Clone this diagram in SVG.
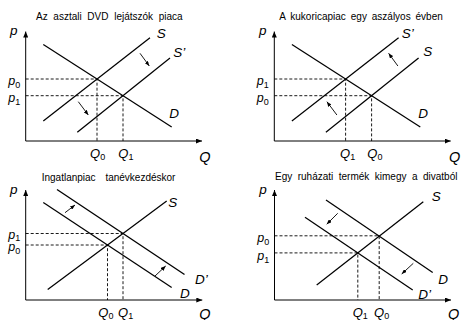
<svg xmlns="http://www.w3.org/2000/svg" width="461" height="320" viewBox="0 0 461 320">
<style>
.bg{fill:#fff}
.ax{stroke:#000;stroke-width:1;fill:none}
.cv{stroke:#000;stroke-width:1.25;fill:none}
.ds{stroke:#000;stroke-width:0.9;fill:none;stroke-dasharray:3 2}
.ar{stroke:#000;stroke-width:0.9;fill:none}
.tt{font-family:"Liberation Sans",Arial,sans-serif;font-size:10px;fill:#000}
.lb{font-family:"Liberation Sans",Arial,sans-serif;font-style:italic;font-size:13.5px;fill:#000}
.ql{font-family:"Liberation Sans",Arial,sans-serif;font-style:italic;font-size:14.5px;fill:#000}
.sv{font-family:"Liberation Sans",Arial,sans-serif;font-style:italic;font-size:13px;fill:#000}
.pv{font-family:"Liberation Sans",Arial,sans-serif;font-style:italic;font-size:12.5px;fill:#000}
.sb{font-size:9px;font-style:normal}
</style>
<defs>
<marker id="ah" markerUnits="userSpaceOnUse" markerWidth="6" markerHeight="5" refX="6" refY="2.5" orient="auto">
<path d="M0,0 L6,2.5 L0,5 z" fill="#000"/>
</marker>
<marker id="sh" markerUnits="userSpaceOnUse" markerWidth="5" markerHeight="4" refX="5" refY="2" orient="auto">
<path d="M0,0 L5,2 L0,4 z" fill="#000"/>
</marker>
</defs>
<rect class="bg" x="0" y="0" width="461" height="320"/>

<g id="panel1">
<text class="tt" x="36" y="20" style="word-spacing:2.9px">Az asztali DVD lejátszók piaca</text>
<g id="p1-axes">
<line class="ax" x1="25.7" y1="141" x2="25.7" y2="31.5" marker-end="url(#ah)"/>
<line class="ax" x1="25.7" y1="141" x2="202" y2="141" marker-end="url(#ah)"/>
</g>
<g id="p1-curves">
<line class="cv" x1="43.3" y1="120.9" x2="150" y2="37.7"/>
<line class="cv" x1="77.3" y1="132.3" x2="170" y2="58.1"/>
<line class="cv" x1="43.3" y1="44.5" x2="171.7" y2="127"/>
</g>
<g id="p1-guides">
<polyline class="ds" points="25.7,79 97,79 97,141"/>
<polyline class="ds" points="25.7,95.7 123,95.7 123,141"/>
</g>
<g id="p1-shifts">
<line class="ar" x1="140" y1="53.3" x2="149.3" y2="66" marker-end="url(#sh)"/>
<line class="ar" x1="78.3" y1="101.7" x2="88.3" y2="115" marker-end="url(#sh)"/>
</g>
<text class="lb" x="10" y="35.4">p</text>
<text class="lb" x="156.7" y="37.7">S</text>
<text class="lb" x="173.3" y="56.7">S’</text>
<text class="lb" x="169.3" y="118.3">D</text>
<text class="pv" x="8.3" y="85">p<tspan class="sb" dy="3">0</tspan></text>
<text class="pv" x="8.3" y="101.7">p<tspan class="sb" dy="3">1</tspan></text>
<text class="sv" x="90" y="158">Q<tspan class="sb" dy="2">0</tspan></text>
<text class="sv" x="118.3" y="158">Q<tspan class="sb" dy="2">1</tspan></text>
<text class="ql" x="199.3" y="161.5">Q</text>
</g>

<g id="panel2">
<text class="tt" x="279.3" y="20" style="word-spacing:2.1px">A kukoricapiac egy aszályos évben</text>
<g id="p2-axes">
<line class="ax" x1="274.3" y1="141" x2="274.3" y2="31.5" marker-end="url(#ah)"/>
<line class="ax" x1="274.3" y1="141" x2="450.7" y2="141" marker-end="url(#ah)"/>
</g>
<g id="p2-curves">
<line class="cv" x1="291.9" y1="120.9" x2="398.6" y2="37.7"/>
<line class="cv" x1="325.9" y1="132.3" x2="418.6" y2="58.1"/>
<line class="cv" x1="291.9" y1="44.5" x2="420.3" y2="127"/>
</g>
<g id="p2-guides">
<polyline class="ds" points="274.3,79 345.6,79 345.6,141"/>
<polyline class="ds" points="274.3,95.7 371.6,95.7 371.6,141"/>
</g>
<g id="p2-shifts">
<line class="ar" x1="397.9" y1="66" x2="388.6" y2="53.3" marker-end="url(#sh)"/>
<line class="ar" x1="336.9" y1="115" x2="326.9" y2="101.7" marker-end="url(#sh)"/>
</g>
<text class="lb" x="259" y="35.4">p</text>
<text class="lb" x="401.7" y="38">S’</text>
<text class="lb" x="423.3" y="56.3">S</text>
<text class="lb" x="418.3" y="118.3">D</text>
<text class="pv" x="256.7" y="85">p<tspan class="sb" dy="3">1</tspan></text>
<text class="pv" x="256.7" y="101.7">p<tspan class="sb" dy="3">0</tspan></text>
<text class="sv" x="340" y="158">Q<tspan class="sb" dy="2">1</tspan></text>
<text class="sv" x="367.3" y="158">Q<tspan class="sb" dy="2">0</tspan></text>
<text class="ql" x="449" y="161.5">Q</text>
</g>

<g id="panel3">
<text class="tt" x="41.7" y="180.5" style="word-spacing:7px">Ingatlanpiac tanévkezdéskor</text>
<g id="p3-axes">
<line class="ax" x1="25.7" y1="300" x2="25.7" y2="190" marker-end="url(#ah)"/>
<line class="ax" x1="25.7" y1="300" x2="202.3" y2="300" marker-end="url(#ah)"/>
</g>
<g id="p3-curves">
<line class="cv" x1="47.7" y1="289.5" x2="166.7" y2="201"/>
<line class="cv" x1="43.3" y1="202.5" x2="171.7" y2="287.5"/>
<line class="cv" x1="57" y1="189.5" x2="184.5" y2="274.5"/>
</g>
<g id="p3-guides">
<polyline class="ds" points="25.7,233.5 123,233.5 123,300"/>
<polyline class="ds" points="25.7,245 107.5,245 107.5,300"/>
</g>
<g id="p3-shifts">
<line class="ar" x1="65" y1="212.7" x2="75" y2="205" marker-end="url(#sh)"/>
<line class="ar" x1="155" y1="276" x2="165.7" y2="266" marker-end="url(#sh)"/>
</g>
<text class="lb" x="10" y="194">p</text>
<text class="lb" x="168.3" y="207.3">S</text>
<text class="lb" x="195" y="284">D’</text>
<text class="lb" x="180" y="298.3">D</text>
<text class="pv" x="8.3" y="238.5">p<tspan class="sb" dy="2.5">1</tspan></text>
<text class="pv" x="8.3" y="251">p<tspan class="sb" dy="2.5">0</tspan></text>
<text class="sv" x="98.3" y="316.5">Q<tspan class="sb" dy="2">0</tspan></text>
<text class="sv" x="118" y="316.5">Q<tspan class="sb" dy="2">1</tspan></text>
<text class="ql" x="199.3" y="319">Q</text>
</g>

<g id="panel4">
<text class="tt" x="275" y="180" style="word-spacing:2.7px">Egy ruházati termék kimegy a divatból</text>
<g id="p4-axes">
<line class="ax" x1="274.5" y1="300" x2="274.5" y2="190" marker-end="url(#ah)"/>
<line class="ax" x1="274.5" y1="300" x2="451" y2="300" marker-end="url(#ah)"/>
</g>
<g id="p4-curves">
<line class="cv" x1="316.7" y1="285" x2="423.3" y2="201.7"/>
<line class="cv" x1="326" y1="200" x2="432.7" y2="272.5"/>
<line class="cv" x1="305" y1="217.3" x2="412.7" y2="290"/>
</g>
<g id="p4-guides">
<polyline class="ds" points="274.5,235.8 379.2,235.8 379.2,300"/>
<polyline class="ds" points="274.5,252.9 357.8,252.9 357.8,300"/>
</g>
<g id="p4-shifts">
<line class="ar" x1="337.7" y1="213.3" x2="326.7" y2="224.3" marker-end="url(#sh)"/>
<line class="ar" x1="413.3" y1="263.3" x2="401.7" y2="274" marker-end="url(#sh)"/>
</g>
<text class="lb" x="259.3" y="194">p</text>
<text class="lb" x="431.7" y="200.7">S</text>
<text class="lb" x="438.3" y="284">D</text>
<text class="lb" x="418.3" y="299">D’</text>
<text class="pv" x="257.3" y="242.3">p<tspan class="sb" dy="3">0</tspan></text>
<text class="pv" x="257.3" y="259.5">p<tspan class="sb" dy="3">1</tspan></text>
<text class="sv" x="352.7" y="316.5">Q<tspan class="sb" dy="2">1</tspan></text>
<text class="sv" x="374" y="316.5">Q<tspan class="sb" dy="2">0</tspan></text>
<text class="ql" x="448" y="319">Q</text>
</g>
</svg>
